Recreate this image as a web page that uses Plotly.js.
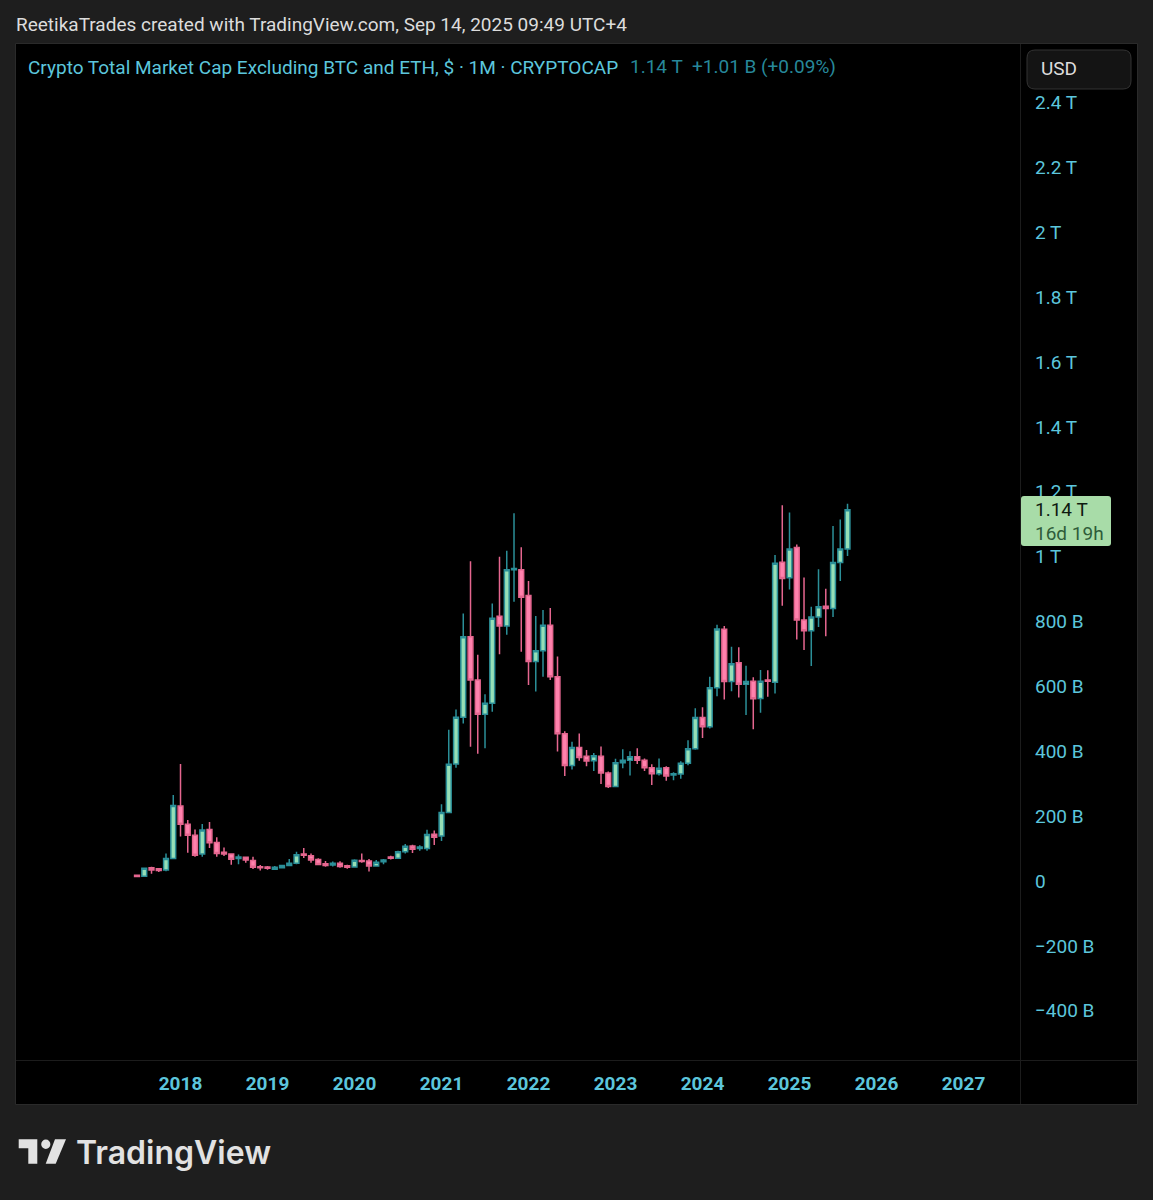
<!DOCTYPE html>
<html><head><meta charset="utf-8">
<script src="https://cdn.plot.ly/plotly-3.0.1.min.js"></script>
<style>html,body{margin:0;padding:0;background:#1e1e1e}</style></head>
<body><div id="chart" style="width:1153px;height:1200px"></div>
<script>
// Monthly OHLC values in billions of USD, July 2017 to September 2025
const opens = [18,15,41,38,34,69,231,175,141,83,
159,119,89,83,69,73,63,44,43,36,
41,48,55,83,78,66,53,49,55,47,
43,63,62,46,59,74,70,90,108,100,
100,144,139,211,361,505,753,620,514,548,
816,786,960,960,880,677,710,789,630,454,
356,412,385,371,385,333,291,365,372,383,
372,349,331,349,327,330,363,408,504,476,
596,776,615,673,607,616,563,620,613,983,
935,1028,805,772,814,847,840,982,1024];
const highs = [19,40,44,40,85,265,361,188,159,176,
182,135,103,85,82,75,75,49,46,46,
50,68,90,102,85,70,62,60,61,50,
67,85,68,65,68,78,93,114,112,110,
158,156,237,466,529,825,986,698,576,856,
1000,1018,1134,1029,925,817,836,842,692,462,
429,455,404,395,415,338,377,406,400,409,
378,360,378,354,335,369,434,533,536,630,
790,786,722,721,664,628,651,650,1005,1159,
1136,1038,936,846,961,901,1095,1115,1163];
const lows = [12,14,22,28,30,67,137,87,75,75,
102,75,77,50,52,56,37,32,35,35,
40,47,52,71,56,50,44,45,41,38,
42,56,29,44,52,66,69,85,86,93,
93,111,123,210,349,486,414,392,409,522,
699,759,861,707,604,584,630,620,399,324,
344,371,354,339,299,287,290,348,325,361,
339,296,325,309,311,315,357,405,441,470,
570,560,585,566,512,468,519,568,578,849,
899,745,712,663,783,755,814,925,1002];
const closes = [14,39,34,32,69,233,175,141,79,157,
118,85,83,67,74,65,42,41,39,42,
48,55,81,79,65,51,48,55,45,42,
64,60,46,58,65,70,90,107,98,105,
143,135,211,360,505,753,620,514,548,810,
786,960,964,875,677,710,789,630,454,356,
412,381,370,386,333,291,365,372,383,372,
349,331,348,324,331,363,408,504,476,596,
777,615,670,607,615,562,616,616,980,933,
1024,805,772,814,846,840,982,1024,1145];
const yTickVals = [-400,-200,0,200,400,600,800,1000,1200,1400,1600,1800,2000,2200,2400];
const yTickText = ['\u2212400 B','\u2212200 B','0','200 B','400 B','600 B','800 B','1 T','1.2 T','1.4 T','1.6 T','1.8 T','2 T','2.2 T','2.4 T'];
const xTickYears = ['2018','2019','2020','2021','2022','2023','2024','2025','2026','2027'];

// Calendar of month categories, running on past the last candle
const calendar = [];
for (let y = 2017; y <= 2028; y++) for (let m = 1; m <= 12; m++) {
  if (y === 2017 && m < 7) continue;
  calendar.push(y + '-' + String(m).padStart(2, '0'));
}
const months = calendar.slice(0, closes.length);

const W = 1153, H = 1200, L = 16, R = 1020, T = 44, B = 1060;
const px = x => (x - L) / (R - L);
const py = y => (B - y) / (B - T);
const rect = (x0, y0, x1, y1, fill, line, layer) => ({type:'rect', xref:'paper', yref:'paper', x0:px(x0), x1:px(x1), y0:py(y0), y1:py(y1),
  fillcolor:fill, line:{color:line||fill, width:line?1:0}, layer:layer||'above'});
const path = (pts, fill) => ({type:'path', xref:'paper', yref:'paper', layer:'above', fillcolor:fill, line:{width:0},
  path:'M' + pts.map(p => px(p[0]) + ',' + py(p[1])).join('L') + 'Z'});
const rounded = (x0, y0, x1, y1, r, fill, line) => {
  const X0=px(x0),X1=px(x1),Y0=py(y0),Y1=py(y1),rx=r/(R-L),ry=r/(B-T);
  return {type:'path', xref:'paper', yref:'paper', layer:'above', fillcolor:fill, line:{color:line||fill, width:line?1:0},
    path:`M${X0+rx},${Y0} L${X1-rx},${Y0} Q${X1},${Y0} ${X1},${Y0-ry} L${X1},${Y1+ry} Q${X1},${Y1} ${X1-rx},${Y1} L${X0+rx},${Y1} Q${X0},${Y1} ${X0},${Y1+ry} L${X0},${Y0-ry} Q${X0},${Y0} ${X0+rx},${Y0} Z`};
};
const note = (x, y, text, size, color, extra) => Object.assign({xref:'paper', yref:'paper', x:px(x), y:py(y), text:text, showarrow:false,
  xanchor:'left', yanchor:'middle', align:'left', borderpad:0, font:{family:'Roboto', size:size, color:color}}, extra||{});

const trace = {
  type:'candlestick', x:months, open:opens, high:highs, low:lows, close:closes,
  increasing:{line:{color:'#2b8f98', width:1.5}, fillcolor:'#96dfb6'},
  decreasing:{line:{color:'#e5668f', width:1.5}, fillcolor:'#ff82ad'},
  whiskerwidth:0, hoverinfo:'none', showlegend:false
};

const layout = {
  width:W, height:H, autosize:false, showlegend:false,
  margin:{l:L, r:W-R, t:T, b:H-B, pad:0},
  paper_bgcolor:'#1e1e1e', plot_bgcolor:'#000000',
  boxgap:0.05,
  title:{text:'Crypto Total Market Cap Excluding BTC and ETH, $ \u00b7 1M \u00b7 CRYPTOCAP', x:28/W, xref:'container', xanchor:'left',
    y:1-67/H, yref:'container', yanchor:'middle', pad:{t:0,b:0,l:0,r:0}, font:{family:'Roboto', size:19, color:'#5cc6dc'}},
  xaxis:{type:'category', categoryorder:'array', categoryarray:calendar, range:[-16.69,121.79], rangeslider:{visible:false},
    tickmode:'array', tickvals:xTickYears.map(y => y + '-01'), ticktext:xTickYears, ticks:'', ticklabelstandoff:10,
    tickfont:{family:'Roboto', size:19, weight:700, color:'#5cc6dc'}, showgrid:false, zeroline:false, showline:false, fixedrange:true},
  yaxis:{side:'right', range:[-552,2581], tickmode:'array', tickvals:yTickVals, ticktext:yTickText, ticks:'', ticklabelstandoff:14,
    tickfont:{family:'Roboto', size:19, color:'#5cc6dc'}, showgrid:false, zeroline:false, showline:false, fixedrange:true},
  shapes:[
    rect(15.5, 43.5, 1137.5, 1104.5, '#000000', '#2a2a2a', 'below'),
    rect(1020, 44, 1021, 1104, '#1c1c1c'),
    rect(16, 1060, 1137, 1061, '#1c1c1c'),
    rounded(1027, 50, 1131, 89, 8, '#141414', '#333333'),
    rounded(1021, 496, 1111, 546, 3, '#a8dca8'),
    path([[18.7,1139.3],[37.3,1139.3],[37.3,1163.7],[28.3,1163.7],[28.3,1148.3],[18.7,1148.3]], '#e2e2e2'),
    path([[55,1139.3],[66,1139.3],[55.7,1163.7],[45.7,1163.7]], '#e2e2e2'),
    {type:'circle', xref:'paper', yref:'paper', layer:'above', fillcolor:'#e2e2e2', line:{width:0},
     x0:px(41.2), x1:px(50.4), y0:py(1149), y1:py(1139.6)}
  ],
  annotations:[
    note(15, 24, 'ReetikaTrades created with TradingView.com, Sep 14, 2025 09:49 UTC+4', 19, '#dcdcdc'),
    note(629, 67, '1.14 T', 19, '#27889a'),
    note(691, 67, '+1.01 B (+0.09%)', 19, '#27889a'),
    note(1040, 69, 'USD', 19, '#dddddd'),
    note(1034, 510, '1.14 T', 19, '#0e1a10'),
    note(1034, 533, '16d 19h', 19, '#2f5c3a'),
    note(75, 1152, 'TradingView', 32, '#e2e2e2', {font:{family:'Inter', size:32, weight:600, color:'#e2e2e2'}})
  ]
};
Plotly.newPlot('chart', [trace], layout, {displayModeBar:false, staticPlot:true});
</script></body></html>
